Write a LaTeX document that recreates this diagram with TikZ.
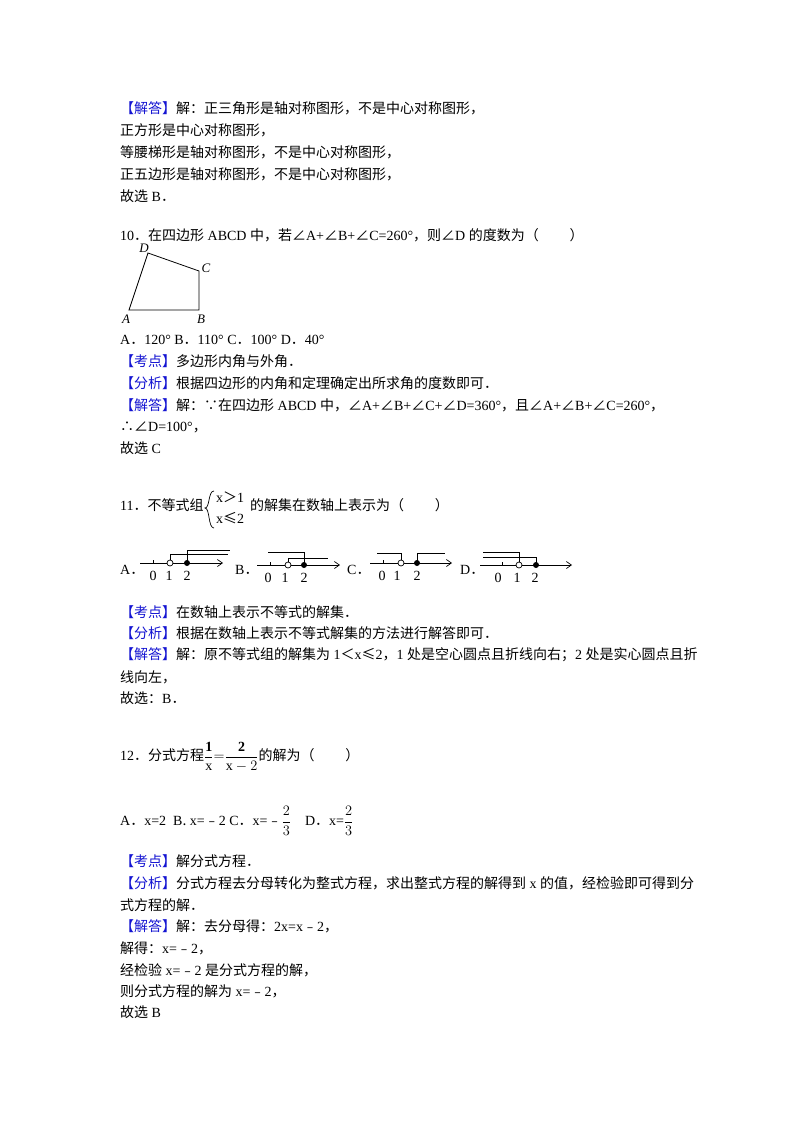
\documentclass[tikz,border=0pt]{standalone}
\usepackage{fontspec}
\usetikzlibrary{arrows.meta}
\setmainfont{Liberation Serif}
\newfontfamily\cjk{Noto Sans CJK SC}
\newcommand\z[1]{{\cjk #1}}
\definecolor{tagblue}{RGB}{20,20,210}
\newcommand\tg[1]{{\color{tagblue}\cjk 【#1】}}
\begin{document}
\begin{tikzpicture}[x=1pt,y=-1pt,
  ln/.style={anchor=west,inner sep=0pt,font=\fontsize{14}{16}\selectfont},
  nl/.style={line width=0.7pt},
  ar/.style={nl,-{Straight Barb[length=5pt,width=7pt]}},
  oc/.style={circle,draw,fill=white,inner sep=0pt,minimum size=6pt,line width=0.7pt},
  fc/.style={circle,fill=black,inner sep=0pt,minimum size=6pt},
  lab/.style={inner sep=0pt,font=\fontsize{14}{16}\selectfont}]
\useasboundingbox[fill=white] (0,0) rectangle (800,1132);
\node[ln] (l1) at (120,108) {\tg{解答}\z{解：正三角形是轴对称图形，不是中心对称图形，}};
\node[ln] (l2) at (120,130) {\z{正方形是中心对称图形，}};
\node[ln] (l3) at (120,152) {\z{等腰梯形是轴对称图形，不是中心对称图形，}};
\node[ln] (l4) at (120,174) {\z{正五边形是轴对称图形，不是中心对称图形，}};
\node[ln] (l5) at (120,196) {\z{故选} B\z{．}};
\node[ln] (q10) at (120,235) {10\z{．在四边形} ABCD \z{中，若∠}A+\z{∠}B+\z{∠}C=260°\z{，则∠}D \z{的度数为（}\hspace{2.2em}\z{）}};
% quadrilateral
\coordinate (A) at (129,310); \coordinate (B) at (199,310);
\coordinate (C) at (199,271); \coordinate (D) at (148,253);
\draw[line width=0.8pt] (A) -- (B) -- (C) -- (D) -- cycle;
\node[lab,font=\itshape\fontsize{13}{14}\selectfont] (la) at (126,319) {A};
\node[lab,font=\itshape\fontsize{13}{14}\selectfont] (lb) at (201,319) {B};
\node[lab,font=\itshape\fontsize{13}{14}\selectfont] (lc) at (206,268) {C};
\node[lab,font=\itshape\fontsize{13}{14}\selectfont] (ld) at (144,248) {D};
\node[ln] (o10) at (120,340) {A\z{．}120° B\z{．}110° C\z{．}100° D\z{．}40°};
\node[ln] (k10) at (120,361) {\tg{考点}\z{多边形内角与外角．}};
\node[ln] (f10) at (120,383) {\tg{分析}\z{根据四边形的内角和定理确定出所求角的度数即可．}};
\node[ln] (j10) at (120,405) {\tg{解答}\z{解：∵在四边形} ABCD \z{中，∠}A+\z{∠}B+\z{∠}C+\z{∠}D=360°\z{，且∠}A+\z{∠}B+\z{∠}C=260°\z{，}};
\node[ln] (j10b) at (120,427) {\z{∴∠}D=100°\z{，}};
\node[ln] (j10c) at (120,448) {\z{故选} C};
% question 11
\node[ln] (q11a) at (120,505) {11\z{．不等式组}};
\node[ln] (q11b) at (250,505) {\z{的解集在数轴上表示为（}\hspace{2.2em}\z{）}};
\draw[line width=0.7pt] (214,491) .. controls (208,491) and (210,508) .. (205,508) .. controls (210,508) and (208,528) .. (214,528);
\node[lab,anchor=west] (s1) at (216,497) {x\z{＞}1};
\node[lab,anchor=west] (s2) at (216,518) {x\z{≤}2};
% option letters
\node[ln] (oa) at (120,570) {A\z{．}};
\node[ln] (ob) at (235,570) {B\z{．}};
\node[ln] (oc) at (347,570) {C\z{．}};
\node[ln] (od) at (460,570) {D\z{．}};
% A
\coordinate (a0) at (140,563); \coordinate (a1) at (223,563);
\draw[ar] (a0) -- (a1);
\draw[nl] (153,563) -- (153,560);
\draw[nl] (170,563) -- (170,554) -- (228,554);
\draw[nl] (187,563) -- (187,550) -- (230,550);
\node[oc] (ac) at (170,563) {};
\node[fc] (ad) at (187,563) {};
\node[lab] at (153,576) {0}; \node[lab] at (169,576) {1}; \node[lab] at (187,576) {2};
% B
\coordinate (b0) at (257,565); \coordinate (b1) at (340,565);
\draw[ar] (b0) -- (b1);
\draw[nl] (270,565) -- (270,562);
\draw[nl] (288,565) -- (288,558) -- (328,558);
\draw[nl] (304,565) -- (304,552) -- (268,552);
\node[oc] (bc) at (288,565) {};
\node[fc] (bd) at (304,565) {};
\node[lab] at (268,578) {0}; \node[lab] at (285,578) {1}; \node[lab] at (304,578) {2};
% C
\coordinate (c0) at (370,563); \coordinate (c1) at (452,563);
\draw[ar] (c0) -- (c1);
\draw[nl] (383,563) -- (383,560);
\draw[nl] (401,563) -- (401,553) -- (377,553);
\draw[nl] (417,563) -- (417,553) -- (445,553);
\node[oc] (cc) at (401,563) {};
\node[fc] (cd) at (417,563) {};
\node[lab] at (382,576) {0}; \node[lab] at (397,576) {1}; \node[lab] at (417,576) {2};
% D
\coordinate (d0) at (480,565); \coordinate (d1) at (572,565);
\draw[ar] (d0) -- (d1);
\draw[nl] (502,565) -- (502,562);
\draw[nl] (519,565) -- (519,552) -- (483,552);
\draw[nl] (536,565) -- (536,557) -- (483,557);
\node[oc] (dc) at (519,565) {};
\node[fc] (dd) at (536,565) {};
\node[lab] at (498,578) {0}; \node[lab] at (517,578) {1}; \node[lab] at (535,578) {2};
\node[ln] (k11) at (120,612) {\tg{考点}\z{在数轴上表示不等式的解集．}};
\node[ln] (f11) at (120,633) {\tg{分析}\z{根据在数轴上表示不等式解集的方法进行解答即可．}};
\node[ln] (j11) at (120,655) {\tg{解答}\z{解：原不等式组的解集为} 1\z{＜}x\z{≤}2\z{，}1 \z{处是空心圆点且折线向右；}2 \z{处是实心圆点且折}};
\node[ln] (j11b) at (120,677) {\z{线向左，}};
\node[ln] (j11c) at (120,698) {\z{故选：}B\z{．}};
% question 12
\node[ln] (q12) at (120,757) {12\z{．分式方程}$\displaystyle\frac{\mathbf{1}}{\mathrm{x}}\mathbf{=}\frac{\,\mathbf{2}\,}{\mathrm{x}-2}$\z{的解为（}\hspace{2.2em}\z{）}};
\node[ln] (o12) at (120,821) {A\z{．}x=2\ \ B\z{.} x=\z{﹣}2 C\z{．}x=\z{﹣}$\displaystyle\frac{2}{3}$\quad D\z{．}x=$\displaystyle\frac{2}{3}$};
\node[ln] (k12) at (120,861) {\tg{考点}\z{解分式方程．}};
\node[ln] (f12) at (120,883) {\tg{分析}\z{分式方程去分母转化为整式方程，求出整式方程的解得到} x \z{的值，经检验即可得到分}};
\node[ln] (f12b) at (120,905) {\z{式方程的解．}};
\node[ln] (j12) at (120,926) {\tg{解答}\z{解：去分母得：}2x=x\z{﹣}2\z{，}};
\node[ln] (j12b) at (120,948) {\z{解得：}x=\z{﹣}2\z{，}};
\node[ln] (j12c) at (120,970) {\z{经检验} x=\z{﹣}2 \z{是分式方程的解，}};
\node[ln] (j12d) at (120,991) {\z{则分式方程的解为} x=\z{﹣}2\z{，}};
\node[ln] (j12e) at (120,1012) {\z{故选} B};
\end{tikzpicture}
\end{document}
